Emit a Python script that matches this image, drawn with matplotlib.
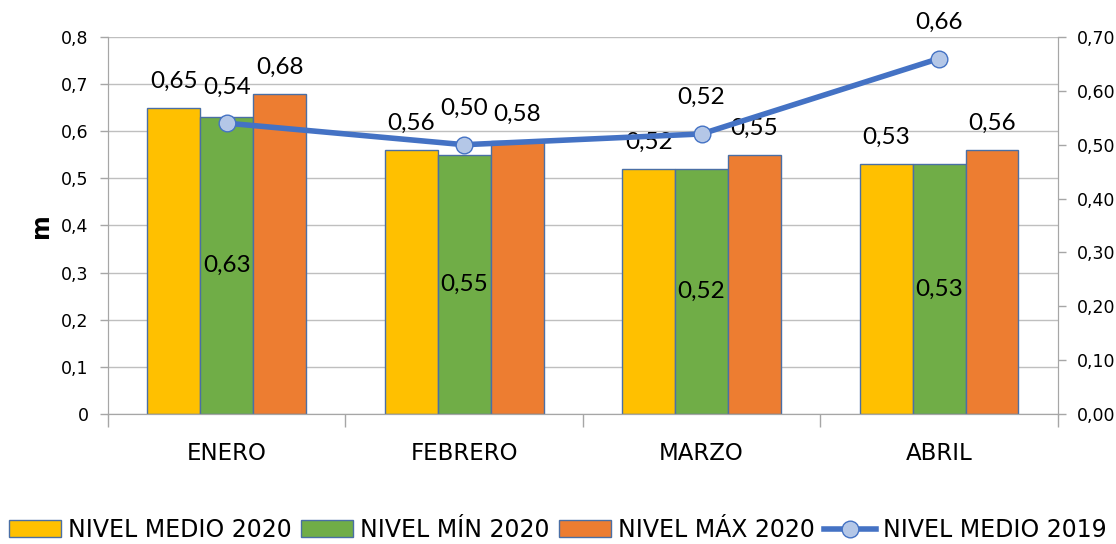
import numpy as np
import matplotlib.pyplot as plt
from matplotlib.lines import Line2D
from matplotlib.patches import Patch

meses = ['ENERO', 'FEBRERO', 'MARZO', 'ABRIL']
medio_2020 = [0.65, 0.56, 0.52, 0.53]
min_2020 = [0.63, 0.55, 0.52, 0.53]
max_2020 = [0.68, 0.58, 0.55, 0.56]
medio_2019 = [0.54, 0.50, 0.52, 0.66]

amarillo = '#FFC000'
verde = '#70AD47'
naranja = '#ED7D31'
azul = '#4472C4'
gris = '#A6A6A6'

def coma(v, d):
    return f'{v:.{d}f}'.replace('.', ',')

fig = plt.figure(figsize=(11.16, 5.44), dpi=100)
ax = fig.add_axes([0.0968, 0.239, 0.851, 0.693])
ax2 = ax.twinx()

x = np.arange(len(meses))
w = 0.223
b1 = ax.bar(x - w, medio_2020, w, color=amarillo, edgecolor='#4A6FA5', linewidth=1)
b2 = ax.bar(x, min_2020, w, color=verde, edgecolor='#4A6FA5', linewidth=1)
b3 = ax.bar(x + w, max_2020, w, color=naranja, edgecolor='#4A6FA5', linewidth=1)

ax.set_xlim(-0.5, 3.5)
ax.set_ylim(0, 0.8)
ax.set_yticks(np.arange(0, 0.81, 0.1))
ax.set_yticklabels([coma(v, 1) if v > 0 else '0' for v in np.arange(0, 0.81, 0.1)],
                   fontsize=12.5)
ax.yaxis.grid(True, color='#BFBFBF', linewidth=1)
ax.set_axisbelow(True)

# ticks de categoria en los limites
ax.set_xticks(np.arange(-0.5, 4, 1))
ax.set_xticklabels([])
ax.set_xticks(x, minor=True)
ax.set_xticklabels(meses, minor=True, fontsize=16.5)
ax.tick_params(axis='x', which='major', length=9, color=gris, width=1)
ax.tick_params(axis='x', which='minor', length=0, pad=20)
ax.tick_params(axis='y', length=6, color=gris, width=1, pad=8)
ax.set_ylabel('m', fontsize=17, fontweight='bold', labelpad=6)

for s in ['top']:
    ax.spines[s].set_visible(False)
    ax2.spines[s].set_visible(False)
for s in ['left', 'right', 'bottom']:
    ax.spines[s].set_color(gris)
    ax2.spines[s].set_color(gris)

ax2.plot(x, medio_2019, color=azul, linewidth=4, marker='o', markersize=12,
         markerfacecolor='#B4C7E7', markeredgecolor=azul, markeredgewidth=1)
ax2.set_ylim(0, 0.7)
ax2.set_yticks(np.arange(0, 0.71, 0.1))
ax2.set_yticklabels([coma(v, 2) for v in np.arange(0, 0.71, 0.1)], fontsize=12.5)
ax2.tick_params(axis='y', length=6, color=gris, width=1, pad=8)

lab = dict(fontsize=17.5, family='Lato', ha='center', va='center')
for i in range(len(meses)):
    ax.annotate(coma(medio_2020[i], 2), (x[i] - w, medio_2020[i]),
                xytext=(0, 19), textcoords='offset points', **lab)
    ax.annotate(coma(max_2020[i], 2), (x[i] + w, max_2020[i]),
                xytext=(0, 19), textcoords='offset points', **lab)
    ax.text(x[i], min_2020[i] / 2, coma(min_2020[i], 2), **lab)
    ax2.annotate(coma(medio_2019[i], 2), (x[i], medio_2019[i]),
                 xytext=(0, 26), textcoords='offset points', **lab)

handles = [
    Patch(facecolor=amarillo, edgecolor='#4A6FA5'),
    Patch(facecolor=verde, edgecolor='#4A6FA5'),
    Patch(facecolor=naranja, edgecolor='#4A6FA5'),
    Line2D([], [], color=azul, linewidth=4, marker='o', markersize=12,
           markerfacecolor='#B4C7E7', markeredgecolor=azul),
]
nombres = ['NIVEL MEDIO 2020', 'NIVEL MÍN 2020', 'NIVEL MÁX 2020', 'NIVEL MEDIO 2019']
fig.legend(handles, nombres, loc='center', bbox_to_anchor=(0.5, 0.026), ncol=4,
           frameon=False, fontsize=17, handlelength=2.2, handletextpad=0.3,
           columnspacing=0.4, borderpad=0)

fig.savefig('out.png', dpi=100)
